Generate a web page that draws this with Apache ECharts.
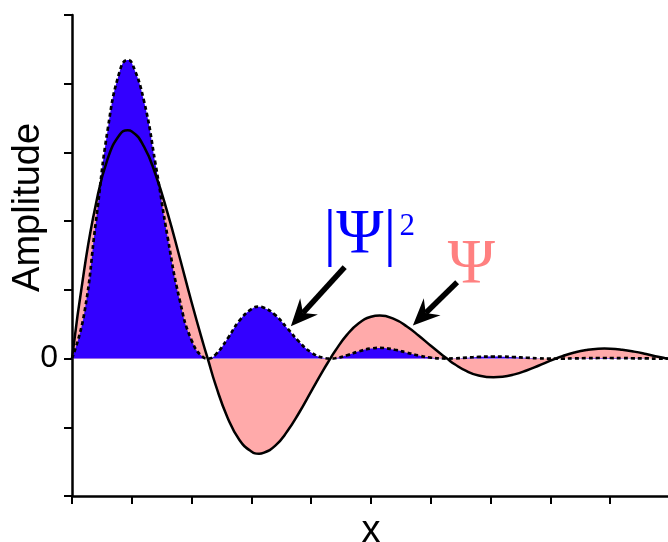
<!DOCTYPE html>
<html>
<head>
<meta charset="utf-8">
<script src="https://cdn.jsdelivr.net/npm/echarts@6/dist/echarts.min.js"></script>
<style>
html,body{margin:0;padding:0;background:#fff;}
#chart{width:668px;height:542px;}
</style>
</head>
<body>
<div id="chart"></div>
<script>
// x positions (data units)
var xs = [0,0.2,0.4,0.6,0.8, 0.931,1.0,1.2,1.4,1.6, 1.8,2.0,2.2,2.27,2.4, 2.6,2.8,3.0,3.128,3.2, 3.4,3.6,3.8,4.0,4.2, 4.32,4.4,4.6,4.8,5.0, 5.147,5.4,5.6,5.8,6.0, 6.2,6.27,6.4,6.6,6.8, 7.048,7.2,7.4,7.6,7.8, 8.0,8.09,8.2,8.4,8.6, 8.8,8.903,9.0,9.2,9.4, 9.6,9.8,9.95,10.0];
// wavefunction Psi
var psi = [0,1.268,2.250,2.916,3.260, 3.321,3.306,3.091,2.672,2.114, 1.475,0.820,0.201,0,-0.379, -0.856,-1.184,-1.352,-1.384,-1.373, -1.267,-1.059,-0.785,-0.477,-0.172, 0,0.111,0.349,0.518,0.609, 0.628,0.571,0.467,0.333,0.187, 0.046,0,-0.083,-0.183,-0.246, -0.272,-0.265,-0.230,-0.173,-0.104, -0.031,0,0.035,0.088,0.125, 0.144,0.146,0.144,0.128,0.101, 0.066,0.027,0,-0.009];
// probability density |Psi|^2
var psiSq = [0,0.634,1.995,3.350,4.187, 4.346,4.306,3.764,2.813,1.761, 0.857,0.265,0.016,0,0.057, 0.289,0.552,0.720,0.755,0.743, 0.632,0.442,0.243,0.090,0.012, 0,0.005,0.048,0.106,0.146, 0.155,0.128,0.086,0.044,0.014, 0.001,0,0.003,0.013,0.024, 0.029,0.028,0.021,0.012,0.004, 0,0,0,0.003,0.006, 0.008,0.0084,0.008,0.006,0.004, 0.002,0,0,0];
// axis ticks
var yTicks = {min:-2, max:5, interval:1};
var xTicks = {min:0, max:10, interval:1};
var yLabelShown = [0];

function pairs(v){ return xs.map(function(x,i){ return [x, v[i]]; }); }

var chart = echarts.init(document.getElementById('chart'), null, {renderer:'canvas'});
var sans = '"Liberation Sans", Arial, Helvetica, sans-serif';
var serif = '"Liberation Serif", "Times New Roman", "DejaVu Serif", serif';

chart.setOption({
  animation:false,
  backgroundColor:'#ffffff',
  grid:{left:72, right:-2, top:15, bottom:46, containLabel:false, outerBoundsMode:'none'},
  xAxis:{
    type:'value', min:xTicks.min, max:xTicks.max, interval:xTicks.interval,
    name:'x', nameLocation:'middle', nameGap:17,
    nameTextStyle:{fontFamily:sans, fontSize:38, color:'#000'},
    axisLine:{show:true, onZero:false, lineStyle:{color:'#000', width:2.5}},
    axisTick:{show:true, inside:false, length:8, lineStyle:{color:'#000', width:2}},
    axisLabel:{show:false},
    splitLine:{show:false}
  },
  yAxis:{
    type:'value', min:yTicks.min, max:yTicks.max, interval:yTicks.interval,
    axisLine:{show:true, onZero:false, lineStyle:{color:'#000', width:2.5}},
    axisTick:{show:true, inside:false, length:8, lineStyle:{color:'#000', width:2}},
    axisLabel:{show:true, margin:14, fontFamily:sans, fontSize:32, color:'#000',
      formatter:function(v){ return yLabelShown.indexOf(v) >= 0 ? String(v) : ''; }},
    splitLine:{show:false}
  },
  series:[
    {
      name:'Psi area', type:'line', data:pairs(psi), smooth:0.5, symbol:'none', z:2,
      lineStyle:{width:0, opacity:0},
      areaStyle:{color:'#ffaaaa', opacity:1, origin:0}
    },
    {
      name:'|Psi|^2', type:'line', data:pairs(psiSq), smooth:0.5, symbol:'none', z:3,
      lineStyle:{color:'#000', width:2.7, type:[4,3]},
      areaStyle:{color:'#3300ff', opacity:1, origin:0}
    },
    {
      name:'Psi', type:'line', data:pairs(psi), smooth:0.5, symbol:'none', z:4,
      lineStyle:{color:'#000', width:2.5}
    }
  ]
});

// annotations, anchored in data coordinates
function P(x,y){ return chart.convertToPixel({gridIndex:0}, [x,y]); }
function arrow(tail, tip){
  var a = P(tail[0], tail[1]), b = P(tip[0], tip[1]);
  var dx = b[0]-a[0], dy = b[1]-a[1], len = Math.sqrt(dx*dx+dy*dy);
  var ux = dx/len, uy = dy/len, nx = -uy, ny = ux;
  var L = 27, W = 12, notch = 9;
  var back = [b[0]-(L-notch)*ux, b[1]-(L-notch)*uy];
  return [
    {type:'line', z:100, shape:{x1:a[0], y1:a[1], x2:back[0], y2:back[1]},
     style:{stroke:'#000', lineWidth:5.5}},
    {type:'polygon', z:101, shape:{points:[
      [b[0], b[1]],
      [b[0]-L*ux+W*nx, b[1]-L*uy+W*ny],
      back,
      [b[0]-L*ux-W*nx, b[1]-L*uy-W*ny]
    ]}, style:{fill:'#000'}}
  ];
}
var lab1 = P(4.97, 1.78), lab2 = P(6.68, 1.34), yMid = P(0, 2.2);
var g = [];
g = g.concat(arrow([4.56,1.33],[3.66,0.47]));
g = g.concat(arrow([6.44,1.11],[5.70,0.48]));
g.push({type:'text', z:102, x:lab1[0], y:lab1[1], style:{
  text:'{m||Ψ|}{s|2}', align:'center', verticalAlign:'middle',
  rich:{m:{fontFamily:serif, fontSize:64, fill:'#0000ff', verticalAlign:'middle'},
        s:{fontFamily:serif, fontSize:31, fill:'#0000ff', verticalAlign:'top', padding:[7,0,0,3]}}
}});
g.push({type:'text', z:102, x:lab2[0], y:lab2[1], style:{
  text:'Ψ', align:'center', verticalAlign:'middle',
  fontFamily:serif, fontSize:64, fill:'#ff8080'
}});
// y-axis title
g.push({type:'text', z:102, x:29, y:yMid[1], rotation:Math.PI/2, style:{
  text:'Amplitude', align:'center', verticalAlign:'middle',
  fontFamily:sans, fontSize:38, fill:'#000'
}});
chart.setOption({graphic:g});
</script>
</body>
</html>
